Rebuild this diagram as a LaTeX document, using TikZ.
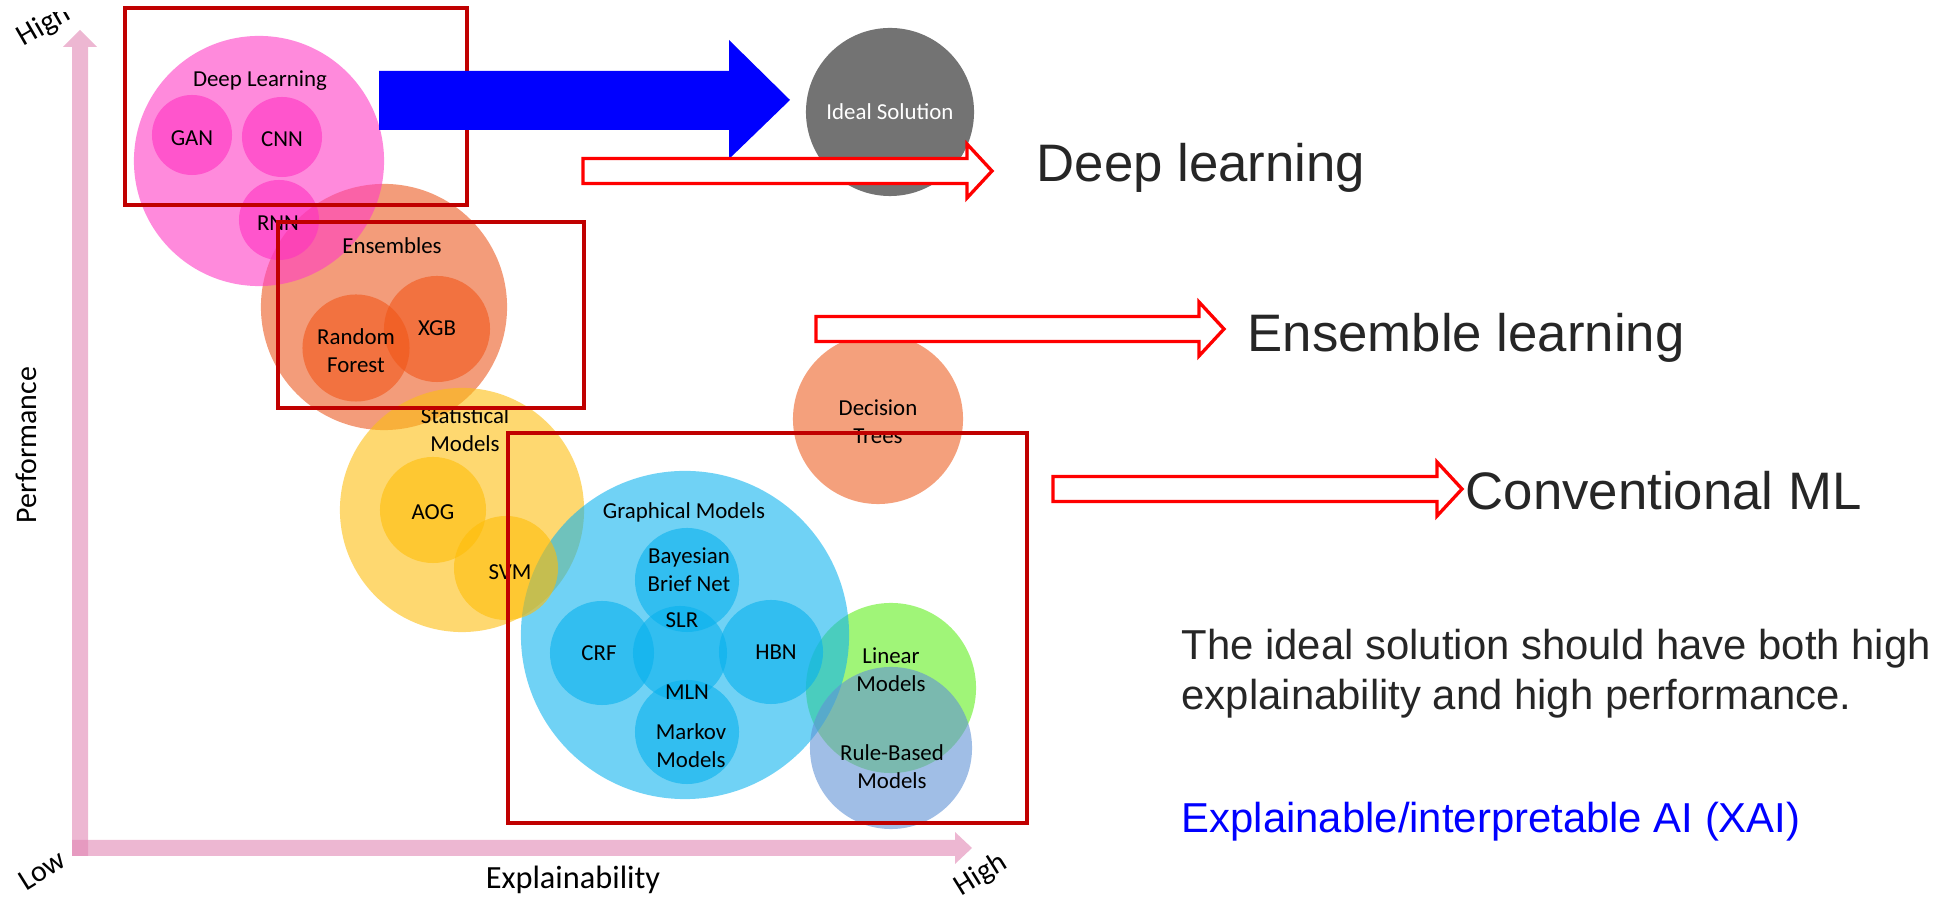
\documentclass[tikz,border=0pt]{standalone}
\usepackage{fontspec}
\setmainfont{Liberation Sans}
\newfontfamily\calibri{Carlito}
\usetikzlibrary{positioning}

% colours (used at fill opacity 0.6)
\definecolor{axispink}{RGB}{225,135,180}
\definecolor{dlbig}{RGB}{255,60,197}
\definecolor{dlsub}{RGB}{255,50,193}
\definecolor{ensbig}{RGB}{235,90,33}
\definecolor{enssub}{RGB}{241,86,25}
\definecolor{statbig}{RGB}{253,190,17}
\definecolor{statsub}{RGB}{255,189,9}
\definecolor{graphbig}{RGB}{17,180,238}
\definecolor{graphsub}{RGB}{9,177,237}
\definecolor{lingreen}{RGB}{97,238,30}
\definecolor{ruleblue}{RGB}{97,147,213}
\definecolor{dtree}{RGB}{237,97,37}
% opaque colours
\definecolor{boxred}{RGB}{192,0,0}
\definecolor{idealgray}{RGB}{115,115,115}
\definecolor{darktext}{RGB}{38,38,38}

\begin{document}
\begin{tikzpicture}[x=0.01cm, y=-0.01cm,
    bubble/.style={circle, inner sep=0pt, fill opacity=0.6},
    tag/.style={font=\calibri\fontsize{6.5}{7.9}\selectfont, align=center, inner sep=0pt},
    axislabel/.style={font=\calibri\fontsize{8.5}{10}\selectfont, inner sep=0pt},
    redbox/.style={draw=boxred, line width=0.04cm},
    hollow/.style={draw=red, fill=white, line width=0.033cm},
    bigtext/.style={font=\fontsize{15}{18}\selectfont, text=darktext, anchor=base west, inner sep=0pt},
    note/.style={font=\fontsize{11.9}{14.2}\selectfont, anchor=base west, inner sep=0pt}]

    \useasboundingbox (0,0) rectangle (1951,898);

    % Axes (two see-through pink arrows, darker where they cross)
    \fill[axispink, fill opacity=0.6] (72,856) -- (72,47) -- (63,47) -- (80,30) -- (97,47) -- (88,47) -- (88,856) -- cycle;
    \fill[axispink, fill opacity=0.6] (72,840) -- (955,840) -- (955,832) -- (972,848) -- (955,864) -- (955,856) -- (72,856) -- cycle;

    % Ensembles
    \node[bubble, fill=ensbig, minimum size=2.46cm] (ens) at (384,307) {};
    \node[bubble, fill=enssub, minimum size=1.07cm] (rf) at (356,348) {};
    \node[bubble, fill=enssub, minimum size=1.06cm] (xgb) at (437,329) {};

    % Deep learning
    \node[bubble, fill=dlbig, minimum size=2.5cm] (deep) at (259,161) {};
    \node[bubble, fill=dlsub, minimum size=0.8cm] (gan) at (192,135) {};
    \node[bubble, fill=dlsub, minimum size=0.8cm] (cnn) at (282,137) {};
    \node[bubble, fill=dlsub, minimum size=0.8cm] (rnn) at (279,220) {};

    % Decision trees
    \node[bubble, fill=dtree, minimum size=1.7cm] (dt) at (878,419) {};

    % Statistical models
    \node[bubble, fill=statbig, minimum size=2.44cm] (stat) at (462,510) {};

    % Linear models
    \node[bubble, fill=lingreen, minimum size=1.7cm] (lin) at (891,688) {};

    % Graphical models
    \node[bubble, fill=graphbig, minimum size=3.28cm] (graph) at (685,635) {};

    \node[bubble, fill=statsub, minimum size=1.06cm] (aog) at (433,510) {};
    \node[bubble, fill=statsub, minimum size=1.04cm] (svm) at (506,568) {};

    \node[bubble, fill=graphsub, minimum size=1.04cm] (bbn) at (687,580) {};
    \node[bubble, fill=graphsub, minimum size=1.04cm] (crf) at (602,653) {};
    \node[bubble, fill=graphsub, minimum size=1.04cm] (hbn) at (771,652) {};
    \node[bubble, fill=graphsub, minimum size=1.04cm] (markov) at (687,732) {};
    \node[bubble, fill=graphsub, minimum size=0.94cm] (slr) at (680,653) {};

    % Rule-based models
    \node[bubble, fill=ruleblue, minimum size=1.62cm] (rule) at (891,748) {};

    % Labels
    \node[tag] (tdeep) at (260,81) {Deep Learning};
    \node[tag] (tgan) at (192,138) {GAN};
    \node[tag] (tcnn) at (282,139) {CNN};
    \node[tag] (trnn) at (278,223) {RNN};
    \node[tag] (tens) at (392,246) {Ensembles};
    \node[tag] (trf) at (356,351) {Random\\Forest};
    \node[tag] (txgb) at (437,328) {XGB};
    \node[tag] (tdt) at (878,422) {Decision\\Trees};
    \node[tag] (tstat) at (465,430) {Statistical\\Models};
    \node[tag] (taog) at (433,512) {AOG};
    \node[tag] (tsvm) at (510,572) {SVM};
    \node[tag] (tgraph) at (684,512) {Graphical Models};
    \node[tag] (tbbn) at (689,570) {Bayesian\\Brief Net};
    \node[tag] (tslr) at (682,620) {SLR};
    \node[tag] (tcrf) at (599,653) {CRF};
    \node[tag] (thbn) at (776,652) {HBN};
    \node[tag] (tmln) at (687,692) {MLN};
    \node[tag] (tmarkov) at (691,746) {Markov\\Models};
    \node[tag] (tlin) at (891,670) {Linear\\Models};
    \node[tag] (trule) at (892,767) {Rule-Based\\Models};

    % Red frames
    \draw[redbox] (125,8) rectangle (467,205);
    \draw[redbox] (278,222) rectangle (584,408);
    \draw[redbox] (508,433) rectangle (1027,823);

    % Big blue arrow
    \fill[blue] (379,71) -- (729,71) -- (729,40) -- (790,100) -- (729,159) -- (729,130) -- (379,130) -- cycle;

    % Ideal solution
    \node[circle, fill=idealgray, minimum size=1.68cm, inner sep=0pt, text=white,
          font=\calibri\fontsize{6.5}{7.9}\selectfont] (ideal) at (890,112) {Ideal Solution};

    % Hollow red arrows
    \foreach \xa/\xb/\yc in {583/992/171, 816/1224/329, 1053/1462/489}
        \draw[hollow] (\xa,\yc-12.5) -- (\xb-25,\yc-12.5) -- (\xb-25,\yc-27) -- (\xb,\yc)
            -- (\xb-25,\yc+27) -- (\xb-25,\yc+12.5) -- (\xa,\yc+12.5) -- cycle;

    \node[bigtext] (dlearn) at (1036,182) {Deep learning};
    \node[bigtext] (elearn) at (1247,352) {Ensemble learning};
    \node[bigtext] (cml) at (1465,510) {Conventional ML};

    % Note on the right
    \node[note, text=darktext] (note1) at (1181,660) {The ideal solution should have both high};
    \node[note, text=darktext] (note2) at (1181,710) {explainability and high performance.};
    \node[note, text=blue] (xai) at (1181,833) {Explainable/interpretable AI (XAI)};

    % Axis labels
    \node[axislabel] (perf) at (26,445) [rotate=90] {Performance};
    \node[axislabel, font=\calibri\fontsize{9.2}{11}\selectfont] (expl) at (573,880) {Explainability};
    \node[axislabel, rotate=32] (low) at (42,870) {Low};
    \node[axislabel, rotate=32] (highx) at (981,875) {High};
    \begin{scope}
        \clip (0,13) rectangle (120,120);
        \node[axislabel, rotate=30] (highy) at (44,26) {High};
    \end{scope}
\end{tikzpicture}
\end{document}
